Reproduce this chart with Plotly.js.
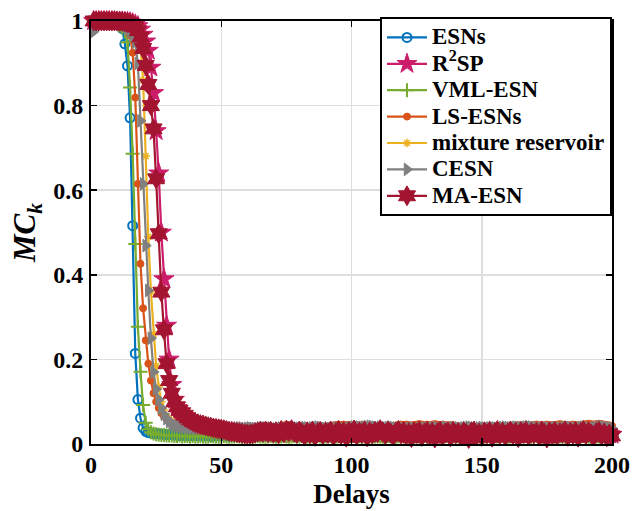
<!DOCTYPE html>
<html>
<head>
<meta charset="utf-8">
<script src="https://cdn.plot.ly/plotly-3.0.1.min.js"></script>
<style>html,body{margin:0;padding:0;background:#fff;}#chart{width:632px;height:511px;}</style>
</head>
<body>
<div id="chart"></div>
<script>
// Delay index 1..200
var delays = [];
for (var i = 1; i <= 200; i++) delays.push(i);

var seriesNames = ['ESNs', 'R<sup>2</sup>SP', 'VML-ESN', 'LS-ESNs', 'mixture reservoir', 'CESN', 'MA-ESN'];

var esns = [
1.000,1.000,1.000,1.000,1.000,0.999,0.999,0.999,0.998,0.997,
0.993,0.982,0.946,0.894,0.771,0.516,0.214,0.105,0.061,0.038,
0.030,0.027,0.026,0.025,0.024,0.024,0.023,0.023,0.022,0.022,
0.022,0.021,0.021,0.020,0.021,0.020,0.020,0.019,0.020,0.020,
0.019,0.020,0.019,0.019,0.020,0.018,0.019,0.020,0.019,0.019,
0.020,0.019,0.018,0.019,0.020,0.019,0.018,0.019,0.020,0.019,
0.019,0.020,0.021,0.019,0.018,0.019,0.020,0.019,0.019,0.018,
0.019,0.020,0.019,0.018,0.019,0.021,0.020,0.019,0.019,0.020,
0.018,0.019,0.020,0.019,0.019,0.018,0.020,0.019,0.020,0.019,
0.018,0.019,0.019,0.020,0.021,0.019,0.018,0.019,0.020,0.019,
0.019,0.020,0.019,0.018,0.019,0.020,0.021,0.019,0.019,0.018,
0.019,0.020,0.019,0.019,0.018,0.019,0.020,0.020,0.019,0.018,
0.019,0.020,0.019,0.021,0.020,0.019,0.018,0.019,0.020,0.019,
0.019,0.018,0.019,0.020,0.019,0.020,0.019,0.018,0.019,0.020,
0.020,0.019,0.018,0.019,0.020,0.019,0.019,0.020,0.021,0.019,
0.018,0.019,0.020,0.019,0.018,0.019,0.020,0.019,0.019,0.020,
0.019,0.018,0.019,0.020,0.019,0.019,0.020,0.018,0.019,0.020,
0.019,0.020,0.019,0.018,0.019,0.020,0.019,0.019,0.018,0.019,
0.020,0.019,0.019,0.020,0.021,0.019,0.018,0.019,0.020,0.019,
0.019,0.018,0.019,0.020,0.019,0.020,0.019,0.018,0.019,0.020];

var r2sp = [
1.000,1.000,1.000,1.000,1.000,1.000,1.000,1.000,1.000,0.999,
0.999,0.999,0.998,0.998,0.997,0.995,0.992,0.988,0.980,0.968,
0.952,0.930,0.890,0.830,0.740,0.640,0.500,0.390,0.280,0.200,
0.140,0.105,0.085,0.070,0.060,0.054,0.050,0.047,0.045,0.043,
0.041,0.040,0.038,0.037,0.036,0.035,0.034,0.033,0.032,0.031,
0.030,0.029,0.028,0.029,0.028,0.027,0.028,0.027,0.026,0.027,
0.026,0.027,0.026,0.025,0.026,0.027,0.026,0.025,0.026,0.025,
0.026,0.025,0.024,0.025,0.026,0.025,0.024,0.025,0.026,0.027,
0.026,0.025,0.024,0.025,0.026,0.025,0.024,0.023,0.024,0.025,
0.026,0.025,0.024,0.025,0.026,0.027,0.026,0.025,0.024,0.025,
0.024,0.025,0.026,0.025,0.024,0.025,0.026,0.025,0.024,0.023,
0.024,0.025,0.026,0.025,0.024,0.025,0.024,0.025,0.026,0.025,
0.024,0.025,0.026,0.027,0.026,0.025,0.024,0.025,0.026,0.025,
0.024,0.023,0.024,0.025,0.026,0.025,0.024,0.025,0.026,0.025,
0.026,0.025,0.024,0.025,0.026,0.025,0.024,0.025,0.024,0.025,
0.026,0.025,0.024,0.025,0.026,0.027,0.026,0.025,0.024,0.025,
0.024,0.025,0.026,0.025,0.024,0.025,0.026,0.025,0.024,0.025,
0.025,0.024,0.025,0.026,0.025,0.024,0.025,0.026,0.025,0.024,
0.025,0.026,0.025,0.024,0.025,0.026,0.025,0.024,0.025,0.026,
0.025,0.024,0.025,0.026,0.025,0.024,0.025,0.024,0.023,0.022];

var vmlEsn = [
1.000,1.000,1.000,1.000,0.999,0.999,0.999,0.998,0.997,0.995,
0.991,0.984,0.975,0.950,0.843,0.686,0.473,0.277,0.171,0.092,
0.050,0.035,0.028,0.025,0.023,0.022,0.021,0.021,0.020,0.020,
0.020,0.019,0.019,0.020,0.018,0.019,0.019,0.018,0.019,0.018,
0.018,0.019,0.018,0.017,0.018,0.019,0.018,0.018,0.017,0.018,
0.019,0.018,0.017,0.018,0.018,0.019,0.018,0.017,0.018,0.019,
0.018,0.017,0.018,0.019,0.018,0.018,0.017,0.018,0.019,0.018,
0.017,0.018,0.018,0.019,0.018,0.017,0.018,0.019,0.018,0.018,
0.019,0.018,0.017,0.018,0.018,0.019,0.020,0.018,0.017,0.018,
0.018,0.019,0.018,0.017,0.018,0.018,0.019,0.018,0.017,0.018,
0.019,0.018,0.018,0.017,0.018,0.019,0.018,0.017,0.018,0.018,
0.018,0.017,0.018,0.019,0.018,0.018,0.017,0.018,0.019,0.018,
0.017,0.018,0.019,0.018,0.017,0.018,0.018,0.019,0.018,0.017,
0.018,0.019,0.018,0.018,0.017,0.018,0.019,0.018,0.018,0.017,
0.018,0.018,0.019,0.018,0.017,0.018,0.018,0.019,0.018,0.018,
0.017,0.018,0.019,0.018,0.018,0.017,0.018,0.019,0.018,0.017,
0.018,0.019,0.018,0.017,0.018,0.018,0.019,0.018,0.017,0.018,
0.019,0.018,0.018,0.017,0.018,0.019,0.018,0.017,0.018,0.018,
0.018,0.017,0.018,0.019,0.018,0.018,0.017,0.018,0.019,0.018,
0.017,0.018,0.019,0.018,0.017,0.018,0.018,0.019,0.018,0.018];

var lsEsns = [
1.000,1.000,1.000,1.000,1.000,0.999,0.999,0.999,0.998,0.997,
0.996,0.994,0.990,0.982,0.966,0.925,0.819,0.615,0.426,0.321,
0.245,0.190,0.150,0.120,0.100,0.085,0.073,0.065,0.058,0.054,
0.051,0.049,0.047,0.046,0.045,0.045,0.044,0.044,0.043,0.044,
0.045,0.046,0.045,0.044,0.045,0.046,0.044,0.045,0.043,0.042,
0.041,0.040,0.039,0.040,0.041,0.040,0.039,0.040,0.041,0.040,
0.039,0.040,0.041,0.040,0.039,0.040,0.041,0.042,0.041,0.040,
0.041,0.042,0.043,0.044,0.045,0.044,0.042,0.041,0.040,0.041,
0.040,0.039,0.040,0.041,0.040,0.039,0.040,0.041,0.040,0.041,
0.042,0.043,0.044,0.045,0.046,0.045,0.046,0.045,0.044,0.045,
0.046,0.045,0.044,0.045,0.043,0.042,0.041,0.040,0.041,0.040,
0.041,0.040,0.039,0.040,0.041,0.042,0.044,0.045,0.046,0.045,
0.046,0.045,0.044,0.045,0.046,0.047,0.046,0.045,0.046,0.045,
0.046,0.047,0.046,0.045,0.046,0.045,0.044,0.045,0.044,0.043,
0.042,0.041,0.040,0.041,0.040,0.039,0.040,0.041,0.040,0.039,
0.040,0.041,0.040,0.039,0.040,0.041,0.042,0.041,0.040,0.041,
0.042,0.043,0.044,0.045,0.044,0.045,0.046,0.045,0.044,0.045,
0.046,0.045,0.044,0.045,0.046,0.045,0.044,0.045,0.046,0.047,
0.046,0.045,0.044,0.045,0.046,0.045,0.044,0.045,0.046,0.047,
0.048,0.047,0.046,0.047,0.048,0.047,0.046,0.045,0.044,0.043];

var mixture = [
1.000,1.000,1.000,1.000,1.000,1.000,0.999,0.999,0.999,0.998,
0.998,0.997,0.995,0.992,0.986,0.978,0.966,0.955,0.940,0.860,
0.680,0.490,0.360,0.260,0.185,0.135,0.100,0.080,0.066,0.058,
0.053,0.050,0.047,0.045,0.043,0.042,0.041,0.040,0.040,0.039,
0.039,0.038,0.038,0.037,0.037,0.036,0.036,0.037,0.036,0.035,
0.035,0.036,0.035,0.034,0.035,0.036,0.035,0.034,0.035,0.036,
0.035,0.034,0.035,0.036,0.037,0.036,0.035,0.034,0.035,0.036,
0.035,0.034,0.033,0.034,0.035,0.036,0.035,0.034,0.035,0.034,
0.035,0.036,0.035,0.034,0.035,0.036,0.037,0.036,0.035,0.034,
0.035,0.036,0.035,0.034,0.033,0.034,0.035,0.036,0.035,0.034,
0.034,0.035,0.036,0.035,0.034,0.035,0.036,0.035,0.034,0.035,
0.036,0.035,0.034,0.035,0.036,0.037,0.036,0.035,0.034,0.035,
0.035,0.034,0.035,0.036,0.035,0.034,0.033,0.034,0.035,0.036,
0.035,0.036,0.035,0.034,0.035,0.036,0.035,0.034,0.035,0.036,
0.036,0.035,0.034,0.035,0.036,0.035,0.034,0.035,0.036,0.035,
0.034,0.035,0.036,0.035,0.034,0.035,0.036,0.037,0.036,0.035,
0.035,0.034,0.035,0.036,0.035,0.034,0.035,0.036,0.035,0.034,
0.035,0.036,0.035,0.034,0.035,0.036,0.035,0.034,0.035,0.036,
0.036,0.035,0.034,0.035,0.036,0.035,0.034,0.035,0.036,0.035,
0.035,0.036,0.037,0.036,0.035,0.034,0.035,0.036,0.035,0.034];

var cesn = [
0.975,0.990,0.995,0.996,0.997,0.997,0.997,0.996,0.996,0.995,
0.994,0.992,0.988,0.982,0.975,0.965,0.950,0.900,0.764,0.615,
0.469,0.363,0.250,0.170,0.130,0.105,0.085,0.070,0.060,0.053,
0.048,0.045,0.043,0.042,0.041,0.040,0.040,0.039,0.039,0.038,
0.038,0.039,0.038,0.037,0.038,0.039,0.038,0.037,0.036,0.037,
0.036,0.037,0.038,0.037,0.036,0.037,0.038,0.037,0.036,0.037,
0.038,0.037,0.036,0.037,0.038,0.039,0.038,0.037,0.038,0.037,
0.036,0.037,0.038,0.037,0.036,0.037,0.036,0.037,0.038,0.037,
0.038,0.039,0.038,0.037,0.038,0.039,0.040,0.039,0.038,0.037,
0.038,0.037,0.036,0.037,0.038,0.037,0.036,0.037,0.038,0.039,
0.040,0.041,0.040,0.039,0.040,0.041,0.042,0.041,0.040,0.039,
0.040,0.039,0.038,0.039,0.040,0.039,0.038,0.037,0.038,0.037,
0.036,0.037,0.038,0.037,0.036,0.037,0.038,0.037,0.038,0.037,
0.038,0.039,0.038,0.037,0.038,0.039,0.038,0.037,0.038,0.039,
0.038,0.037,0.038,0.039,0.040,0.039,0.038,0.037,0.038,0.039,
0.038,0.037,0.038,0.039,0.038,0.037,0.038,0.039,0.040,0.039,
0.038,0.039,0.040,0.039,0.038,0.039,0.040,0.041,0.040,0.039,
0.038,0.037,0.038,0.039,0.038,0.037,0.038,0.039,0.038,0.037,
0.038,0.039,0.040,0.039,0.038,0.037,0.038,0.039,0.040,0.039,
0.038,0.037,0.038,0.039,0.040,0.041,0.040,0.039,0.038,0.037];

var maEsn = [
1.000,1.000,1.000,1.000,1.000,1.000,1.000,1.000,1.000,1.000,
0.999,0.999,0.998,0.997,0.995,0.992,0.986,0.977,0.962,0.935,
0.895,0.850,0.800,0.745,0.627,0.497,0.359,0.270,0.190,0.150,
0.120,0.100,0.088,0.080,0.074,0.068,0.062,0.057,0.053,0.050,
0.048,0.046,0.045,0.043,0.041,0.040,0.038,0.037,0.036,0.035,
0.034,0.032,0.030,0.029,0.028,0.027,0.026,0.025,0.024,0.023,
0.023,0.024,0.026,0.028,0.030,0.028,0.031,0.027,0.030,0.026,
0.029,0.024,0.032,0.027,0.033,0.030,0.034,0.028,0.025,0.031,
0.026,0.020,0.029,0.024,0.031,0.018,0.027,0.030,0.022,0.028,
0.025,0.031,0.019,0.027,0.032,0.023,0.029,0.016,0.030,0.026,
0.033,0.021,0.028,0.025,0.031,0.017,0.029,0.024,0.030,0.027,
0.034,0.029,0.022,0.031,0.026,0.019,0.028,0.032,0.024,0.030,
0.021,0.027,0.015,0.029,0.025,0.031,0.018,0.026,0.030,0.022,
0.028,0.014,0.027,0.031,0.020,0.026,0.029,0.017,0.030,0.024,
0.027,0.019,0.029,0.025,0.013,0.028,0.031,0.021,0.026,0.018,
0.029,0.024,0.030,0.016,0.027,0.032,0.022,0.028,0.019,0.026,
0.031,0.023,0.028,0.015,0.029,0.025,0.030,0.020,0.027,0.024,
0.028,0.019,0.031,0.026,0.014,0.029,0.024,0.030,0.021,0.027,
0.025,0.031,0.018,0.028,0.023,0.030,0.016,0.027,0.032,0.022,
0.029,0.024,0.019,0.027,0.030,0.021,0.026,0.017,0.024,0.019];

var xTicks = [0, 50, 100, 150, 200];
var yTicks = [0, 0.2, 0.4, 0.6, 0.8, 1];
var yTickText = ['0', '0.2', '0.4', '0.6', '0.8', '1'];

var FONT = 'Liberation Serif, Times New Roman, serif';

function tr(name, y, color, symbol, size, mlw) {
  return {
    x: delays, y: y,
    name: '<span style="font-size:23px">' + name + '</span>',
    type: 'scatter', mode: 'lines+markers',
    cliponaxis: false,
    line: {color: color, width: 2.2},
    marker: {symbol: symbol, size: size, color: color,
             line: {color: color, width: mlw}}
  };
}

var data = [
  tr(seriesNames[0], esns, '#0072BD', 'circle-open', 9, 2),
  tr(seriesNames[1], r2sp, '#CC1D6B', 'star', 15, 1),
  tr(seriesNames[2], vmlEsn, '#77AC30', 'cross-thin-open', 10, 2),
  tr(seriesNames[3], lsEsns, '#D95319', 'circle', 7, 1),
  tr(seriesNames[4], mixture, '#EDB120', 'asterisk-open', 7, 1.5),
  tr(seriesNames[5], cesn, '#808080', 'triangle-right', 11, 1),
  tr(seriesNames[6], maEsn, '#A2142F', 'hexagram', 15, 1)
];

var axisCommon = {
  showline: true, linecolor: '#000', linewidth: 2, mirror: 'ticks',
  ticks: 'inside', ticklen: 6, tickwidth: 1.5, tickcolor: '#000',
  showgrid: true, gridcolor: '#dedede', gridwidth: 1.5, zeroline: false,
  tickfont: {family: FONT, size: 24, color: '#000', weight: 'bold'}
};

var layout = {
  width: 632, height: 511,
  margin: {l: 91, r: 20, t: 21, b: 67},
  paper_bgcolor: '#fff', plot_bgcolor: '#fff',
  showlegend: true,
  xaxis: Object.assign({}, axisCommon, {
    range: [0, 200], tickvals: xTicks, ticktext: xTicks.map(String),
    ticklabelstandoff: -2,
    title: {text: 'Delays', font: {family: FONT, size: 27, color: '#000', weight: 'bold'}, standoff: 7}
  }),
  yaxis: Object.assign({}, axisCommon, {
    range: [0, 1], tickvals: yTicks, ticktext: yTickText,
    ticklabelstandoff: 1,
    title: {text: '<i>MC</i><sub><i>k</i></sub>', font: {family: FONT, size: 31, color: '#000', weight: 'bold'}, standoff: 8}
  }),
  legend: {
    x: 1, xanchor: 'right', y: 1.009, yanchor: 'top',
    bgcolor: '#fff', bordercolor: '#000', borderwidth: 2,
    font: {family: FONT, size: 18, color: '#000', weight: 'bold'},
    itemwidth: 40, tracegroupgap: 0
  }
};

Plotly.newPlot('chart', data, layout, {displayModeBar: false, staticPlot: true});
</script>
</body>
</html>
